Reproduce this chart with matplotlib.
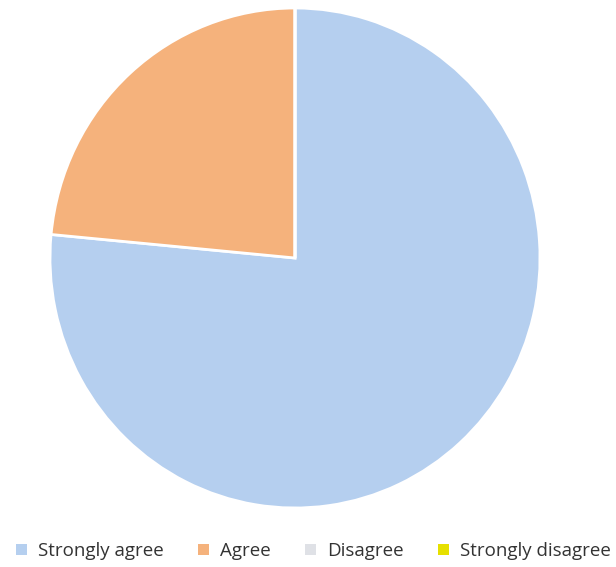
import matplotlib
matplotlib.use("Agg")
import matplotlib.pyplot as plt
from matplotlib.patches import Patch

categories = ["Strongly agree", "Agree", "Disagree", "Strongly disagree"]
values = [76.5, 23.5, 0, 0]
colors = ["#b5cfef", "#f5b27c", "#dfe1e6", "#e6e000"]

fig = plt.figure(figsize=(6.16, 5.67), dpi=100)
ax = fig.add_axes([50/616, (567-508)/567, 490/616, 500/567])
ax.pie(values, colors=colors, startangle=90, counterclock=False,
       wedgeprops=dict(edgecolor="white", linewidth=2))
ax.set_aspect("auto")
ax.set_xlim(-1.0, 1.0)
ax.set_ylim(-1.0, 1.0)
ax.axis("off")

handles = [Patch(facecolor=c, edgecolor="none") for c in colors]
fig.legend(handles, categories, loc="center", bbox_to_anchor=(0.509, 1 - 551/567),
           ncol=4, frameon=False, handlelength=0.55, handleheight=0.55,
           handletextpad=0.6, columnspacing=1.85,
           prop=dict(family="Open Sans", size=13.5), labelcolor="#333333")

fig.savefig("out.png", dpi=100)
